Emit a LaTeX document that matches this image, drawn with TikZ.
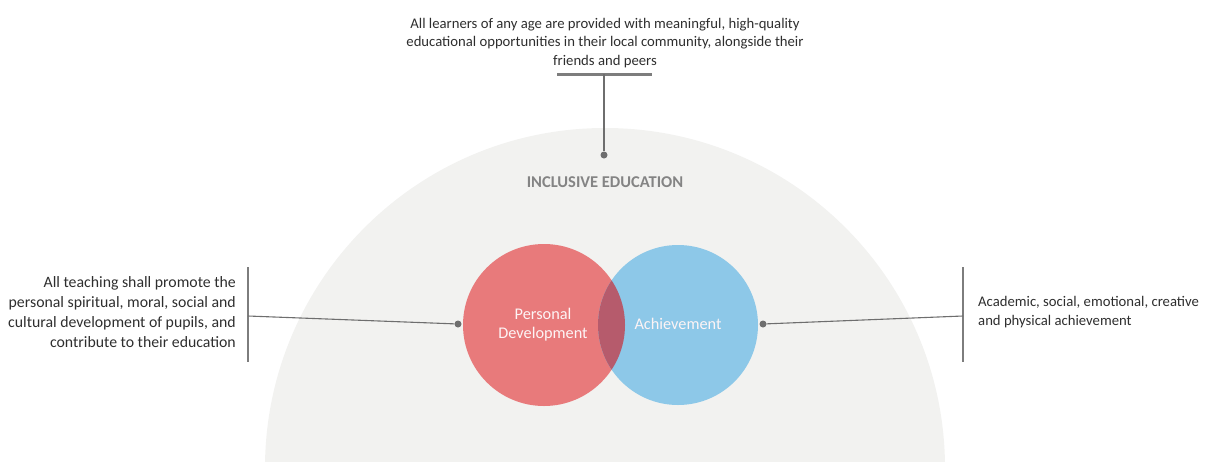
\documentclass[tikz,border=0pt]{standalone}
\usepackage{fontspec}
\setmainfont{Carlito}
\definecolor{bgarc}{HTML}{F2F2F0}
\definecolor{pdred}{HTML}{E87A7B}
\definecolor{acblue}{HTML}{8DC8E8}
\definecolor{mixed}{HTML}{B65B6C}
\definecolor{linegray}{HTML}{6E6E6E}
\definecolor{txt}{HTML}{2E2E2E}
\tikzset{
    label text/.style={font=\fontsize{14.7}{18.5}\selectfont,text=txt,inner sep=0pt},
    bar/.style={draw=linegray!90,line width=2.6pt},
    link/.style={draw=linegray,line width=1.1pt},
    pin dot/.style={circle,fill=linegray,inner sep=0pt,minimum size=7pt},
    venn text/.style={font=\fontsize{16.3}{19}\selectfont,text=white!92!pdred,align=center}
}
\begin{document}
\begin{tikzpicture}[x=1pt,y=-1pt]
    \useasboundingbox (0,0) rectangle (1209,461);
    % background dome
    \begin{scope}
        \clip (0,0) rectangle (1209,461);
        \fill[bgarc] (605,468) circle[radius=340pt];
    \end{scope}
    % venn circles
    \fill[pdred] (544,325) circle[radius=81pt];
    \fill[acblue] (678,325) circle[radius=80pt];
    \begin{scope}
        \clip (544,325) circle[radius=81pt];
        \fill[mixed] (678,325) circle[radius=80pt];
    \end{scope}
    \node[venn text] (pd) at (543,325) {Personal\\Development};
    \node[venn text] (ach) at (678,324) {Achievement};
    \node[font=\fontsize{16.5}{18}\bfseries,text=linegray!85] (ie) at (605,182) {INCLUSIVE EDUCATION};
    % top label
    \node[label text,align=center,anchor=south] (topt) at (605,68)
        {All learners of any age are provided with meaningful, high-quality\\
         educational opportunities in their local community, alongside their\\
         friends and peers};
    \coordinate (tbl) at (557,74);
    \coordinate (tbr) at (652,74);
    \coordinate (tbm) at (604,74);
    \node[pin dot] (tdot) at (604,155) {};
    \draw[bar,line width=3pt] (tbl) -- (tbr);
    \draw[link] (tbm) -- (tdot);
    % left label
    \node[label text,font=\fontsize{15.8}{19.8}\selectfont,align=right,anchor=east] (left) at (236,312)
        {All teaching shall promote the\\
         personal spiritual, moral, social and\\
         cultural development of pupils, and\\
         contribute to their education};
    \coordinate (lbt) at (248,267);
    \coordinate (lbb) at (248,362);
    \coordinate (lbm) at (248,316);
    \node[pin dot] (ldot) at (458,324) {};
    \draw[bar] (lbt) -- (lbb);
    \draw[link] (lbm) -- (ldot);
    % right label
    \node[label text,font=\fontsize{14.7}{19}\selectfont,align=left,anchor=west] (right) at (978,312)
        {Academic, social, emotional, creative\\
         and physical achievement};
    \coordinate (rbt) at (963,267);
    \coordinate (rbb) at (963,362);
    \coordinate (rbm) at (963,316);
    \node[pin dot] (rdot) at (763,324) {};
    \draw[bar] (rbt) -- (rbb);
    \draw[link] (rdot) -- (rbm);
\end{tikzpicture}
\end{document}
